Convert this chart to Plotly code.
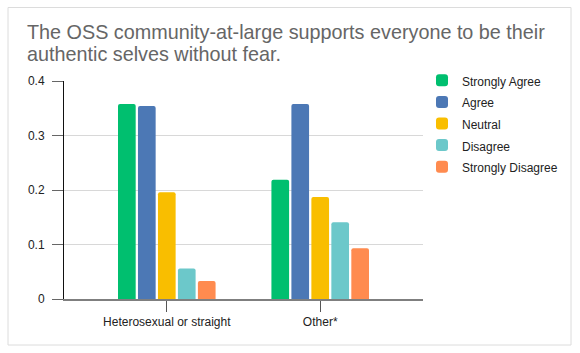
import plotly.graph_objects as go

# ---- data ----
categories = ["Heterosexual or straight", "Other*"]
series_names = ["Strongly Agree", "Agree", "Neutral", "Disagree", "Strongly Disagree"]
strongly_agree = [0.358, 0.219]
agree = [0.354, 0.358]
neutral = [0.196, 0.187]
disagree = [0.056, 0.141]
strongly_disagree = [0.033, 0.093]
series_values = [strongly_agree, agree, neutral, disagree, strongly_disagree]
colors = ["#00BF6F", "#4C78B5", "#F9BE00", "#6CC8CA", "#FF8B4F"]
y_tickvals = [0, 0.1, 0.2, 0.3, 0.4]
y_ticktext = ["0", "0.1", "0.2", "0.3", "0.4"]
title_lines = ["The OSS community-at-large supports everyone to be their",
               "authentic selves without fear."]

# ---- layout geometry (pixels) ----
W, H = 580, 353
L, R, T, B = 64, 157, 81, 54
PW, PH = W - L - R, H - T - B


def px_x(x):
    return (x - L) / PW


def px_y(y):
    return (H - B - y) / PH


FONT = "Arial, Liberation Sans, Helvetica, sans-serif"

fig = go.Figure()
for name, vals, col in zip(series_names, series_values, colors):
    fig.add_trace(go.Bar(
        x=categories, y=vals, name=f'<span style="font-size:12px">{name}</span>',
        marker=dict(color=col, line=dict(width=0)),
        hoverinfo="x+y",
    ))

fig.update_layout(
    width=W, height=H,
    margin=dict(l=L, r=R, t=T, b=B, pad=0),
    paper_bgcolor="white", plot_bgcolor="white",
    barmode="group", bargap=0.349, bargroupgap=0.115,
    barcornerradius=2,
    font=dict(family=FONT, size=12, color="#222222"),
    showlegend=True,
    legend=dict(
        x=px_x(422), y=px_y(64.5), xanchor="left", yanchor="top",
        font=dict(size=14.3, color="#222222", family=FONT),
        bgcolor="rgba(0,0,0,0)", borderwidth=0,
        tracegroupgap=0, itemclick=False, itemdoubleclick=False,
    ),
    xaxis=dict(
        type="category", range=[-0.67, 1.67],
        showline=True, linecolor="#7f7f7f", linewidth=2,
        ticks="outside", ticklen=11, tickcolor="#555555", tickwidth=1,
        showgrid=False, zeroline=False,
        tickfont=dict(size=12, color="#222222"),
        fixedrange=True,
    ),
    yaxis=dict(
        range=[0, 0.4], tickvals=y_tickvals, ticktext=y_ticktext,
        showline=True, linecolor="#111111", linewidth=1,
        ticks="outside", ticklen=11, tickcolor="#666666", tickwidth=1,
        showgrid=True, gridcolor="#d8d8d8", gridwidth=1,
        zeroline=False, ticklabelstandoff=5,
        tickfont=dict(size=12, color="#222222"),
        fixedrange=True,
    ),
    shapes=[dict(
        type="rect", xref="paper", yref="paper", layer="below",
        x0=px_x(8), x1=px_x(571), y0=px_y(345), y1=px_y(7.5),
        line=dict(color="#dcdcdc", width=1), fillcolor="rgba(0,0,0,0)",
    )],
    annotations=[
        dict(text=title_lines[0], xref="paper", yref="paper",
             x=px_x(25), y=px_y(32), xanchor="left", yanchor="middle",
             showarrow=False, font=dict(size=19.8, color="#666666", family=FONT)),
        dict(text=title_lines[1], xref="paper", yref="paper",
             x=px_x(25), y=px_y(53.5), xanchor="left", yanchor="middle",
             showarrow=False, font=dict(size=19.8, color="#666666", family=FONT)),
    ],
)

fig.write_html("out.html")
